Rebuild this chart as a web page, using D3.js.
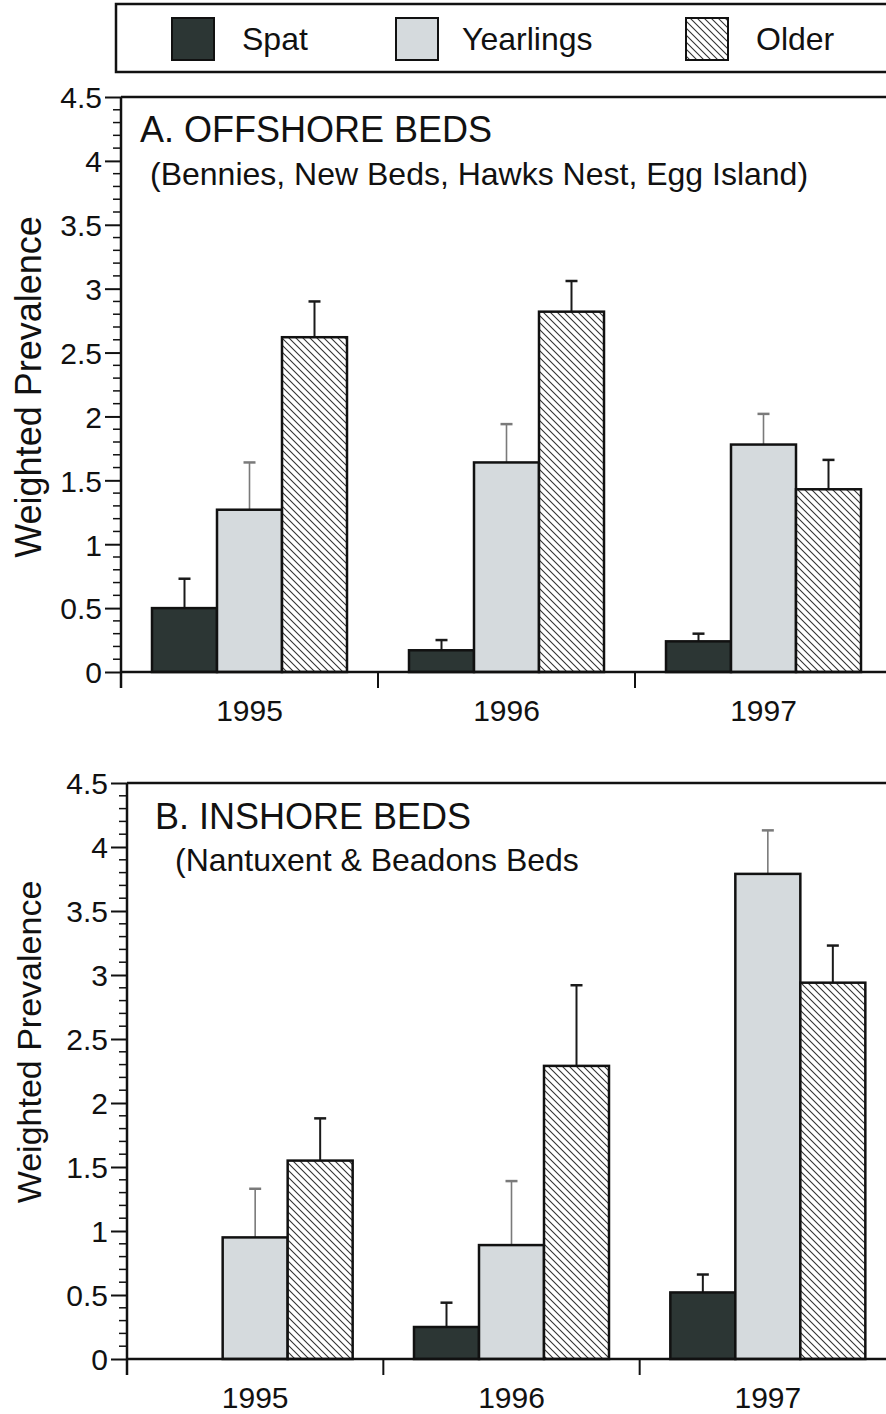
<!DOCTYPE html>
<html><head><meta charset="utf-8">
<script src="https://cdn.jsdelivr.net/npm/d3@7"></script>
<style>body{margin:0;background:#fff}svg{display:block;font-family:"Liberation Sans",Arial,sans-serif}</style>
</head><body>
<svg id="c" width="886" height="1414"></svg>
<script>
const years = ["1995","1996","1997"];
const groups = ["Spat","Yearlings","Older"];
const yTicks = [0,0.5,1,1.5,2,2.5,3,3.5,4,4.5];
const yTickLabels = ["0","0.5","1","1.5","2","2.5","3","3.5","4","4.5"];
// Panel A: offshore beds (mean, standard error)
const offSpat = [0.50, 0.17, 0.24];
const offSpatSE = [0.23, 0.08, 0.06];
const offYear = [1.27, 1.64, 1.78];
const offYearSE = [0.37, 0.30, 0.24];
const offOlder = [2.62, 2.82, 1.43];
const offOlderSE = [0.28, 0.24, 0.23];
// Panel B: inshore beds
const inSpat = [0, 0.25, 0.52];
const inSpatSE = [null, 0.19, 0.14];
const inYear = [0.95, 0.89, 3.79];
const inYearSE = [0.38, 0.50, 0.34];
const inOlder = [1.55, 2.29, 2.94];
const inOlderSE = [0.33, 0.63, 0.29];

const svg = d3.select("#c");
svg.append("rect").attr("width",886).attr("height",1414).attr("fill","#fff");
const defs = svg.append("defs");
const pat = defs.append("pattern").attr("id","hatch").attr("patternUnits","userSpaceOnUse")
  .attr("width",7).attr("height",7);
pat.append("rect").attr("width",7).attr("height",7).attr("fill","#fff");
pat.append("path").attr("d","M-2,5 L2,9 M0,0 L7,7 M5,-2 L9,2").attr("stroke","#333").attr("stroke-width",1.1);

const fills = {Spat:"#2c3634", Yearlings:"#d5dadd", Older:"url(#hatch)"};
const errCol = {Spat:"#1a1a1a", Yearlings:"#7a7a7a", Older:"#1a1a1a"};
const FONT = "Liberation Sans, Arial, sans-serif";

// Legend
const lg = svg.append("g");
lg.append("rect").attr("x",116).attr("y",4).attr("width",790).attr("height",68)
  .attr("fill","none").attr("stroke","#111").attr("stroke-width",2.5);
const legX = [172, 396, 686];
groups.forEach((g,i)=>{
  lg.append("rect").attr("x",legX[i]).attr("y",18).attr("width",42).attr("height",42)
    .attr("fill",fills[g]).attr("stroke","#111").attr("stroke-width",2);
  lg.append("text").attr("x",legX[i]+(i===1?66:70)).attr("y",50).attr("font-size",32).attr("fill","#111").text(g);
});

function panel(cfg){
  const {x0, x1, yTop, yBase, data, title, sub, titleX, titleY, subX, subY, labelY, titleSize, subSize, labSize} = cfg;
  const y = d3.scaleLinear().domain([0,4.5]).range([yBase,yTop]);
  const x = d3.scaleBand().domain(years).range([x0,x1]).padding(0);
  const bw = 65;
  const xs = d3.scaleBand().domain(groups).range([0,bw*3]);
  const g = svg.append("g");
  years.forEach((yr,i)=>{
    const gx = x(yr) + x.bandwidth()/2 - bw*1.5;
    groups.forEach(gr=>{
      const v = data[gr].v[i], se = data[gr].se[i];
      if (v <= 0) return;
      const bx = gx + xs(gr);
      if (se != null){
        const cx = bx + bw/2;
        g.append("line").attr("x1",cx).attr("x2",cx).attr("y1",y(v)).attr("y2",y(v+se))
          .attr("stroke",errCol[gr]).attr("stroke-width",gr==="Yearlings"?1.6:2);
        g.append("line").attr("x1",cx-6).attr("x2",cx+6).attr("y1",y(v+se)).attr("y2",y(v+se))
          .attr("stroke",errCol[gr]).attr("stroke-width",2.5);
      }
      g.append("rect").attr("x",bx).attr("y",y(v)).attr("width",bw).attr("height",yBase-y(v))
        .attr("fill",fills[gr]).attr("stroke","#111").attr("stroke-width",2.5);
    });
  });
  const ya = d3.axisLeft(y).tickValues(yTicks).tickFormat((d,i)=>yTickLabels[i]).tickSize(16).tickPadding(3);
  const yg = g.append("g").attr("transform",`translate(${x0},0)`).call(ya);
  yg.attr("font-size",30).attr("font-family",FONT);
  yg.select(".domain").remove();
  yg.selectAll(".tick line").attr("stroke","#111").attr("stroke-width",2);
  yg.selectAll(".tick text").attr("font-size",30).attr("fill","#111").attr("dy","0.36em");
  const minor = d3.range(0,4.5,0.1).filter(v=>Math.abs(v*2-Math.round(v*2))>1e-6);
  g.append("g").selectAll("line").data(minor).join("line")
    .attr("x1",x0-8).attr("x2",x0).attr("y1",d=>y(d)).attr("y2",d=>y(d)).attr("stroke","#111").attr("stroke-width",1.5);
  g.append("line").attr("x1",x0).attr("x2",x0).attr("y1",yTop).attr("y2",yBase+16).attr("stroke","#111").attr("stroke-width",2.5);
  g.append("line").attr("x1",x0).attr("x2",886).attr("y1",yTop).attr("y2",yTop).attr("stroke","#111").attr("stroke-width",2.5);
  const xa = d3.axisBottom(x).tickSize(0).tickPadding(28);
  const xg = g.append("g").attr("transform",`translate(0,${yBase})`).call(xa);
  xg.attr("font-size",30).attr("font-family",FONT);
  xg.select(".domain").remove();
  xg.selectAll(".tick text").attr("font-size",30).attr("fill","#111");
  g.append("line").attr("x1",x0).attr("x2",886).attr("y1",yBase).attr("y2",yBase).attr("stroke","#111").attr("stroke-width",2.5);
  g.append("g").selectAll("line").data(years.slice(1)).join("line")
    .attr("x1",d=>x(d)).attr("x2",d=>x(d)).attr("y1",yBase).attr("y2",yBase+16).attr("stroke","#111").attr("stroke-width",2);
  g.append("text").attr("x",titleX).attr("y",titleY).attr("font-size",titleSize).attr("fill","#111").text(title);
  g.append("text").attr("x",subX).attr("y",subY).attr("font-size",subSize).attr("fill","#111").text(sub);
  g.append("text").attr("transform",`translate(41,${labelY}) rotate(-90)`).attr("text-anchor","middle")
    .attr("font-size",labSize).attr("fill","#111").text("Weighted Prevalence");
}

panel({x0:121, x1:892, yTop:97, yBase:672,
  data:{Spat:{v:offSpat,se:offSpatSE}, Yearlings:{v:offYear,se:offYearSE}, Older:{v:offOlder,se:offOlderSE}},
  title:"A. OFFSHORE BEDS", sub:"(Bennies, New Beds, Hawks Nest, Egg Island)",
  titleX:140, titleY:142, subX:150, subY:185, labelY:387, titleSize:36, subSize:32, labSize:36});
panel({x0:127, x1:896, yTop:783, yBase:1359,
  data:{Spat:{v:inSpat,se:inSpatSE}, Yearlings:{v:inYear,se:inYearSE}, Older:{v:inOlder,se:inOlderSE}},
  title:"B. INSHORE BEDS", sub:"(Nantuxent & Beadons Beds",
  titleX:155, titleY:829, subX:175, subY:871, labelY:1042, titleSize:36, subSize:32, labSize:34});
</script>
</body></html>
